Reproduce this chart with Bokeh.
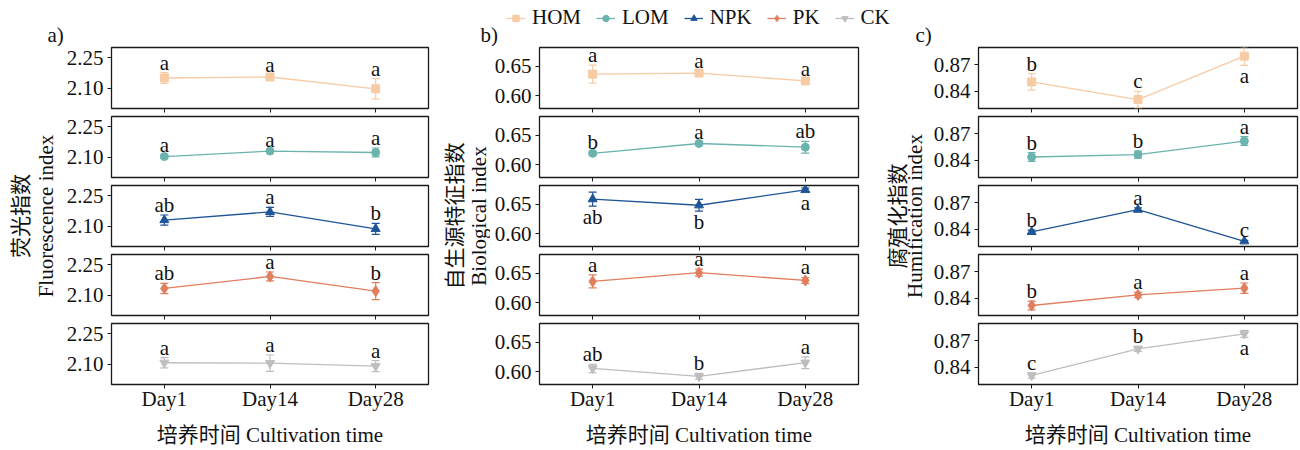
import math
from bokeh.plotting import figure
from bokeh.layouts import row, column
from bokeh.models import (ColumnDataSource, Whisker, TeeHead, Range1d,
                          FixedTicker, PrintfTickFormatter, Legend, LegendItem, Label)
from bokeh.core.properties import value
from bokeh.embed import file_html
from bokeh.resources import INLINE

# ---------------- data ----------------
DAYS = ["Day1", "Day14", "Day28"]
TREATMENTS = ["HOM", "LOM", "NPK", "PK", "CK"]

# a) Fluorescence index
FI_MEAN = {"HOM": [2.150, 2.155, 2.097], "LOM": [2.103, 2.130, 2.123],
           "NPK": [2.130, 2.170, 2.087], "PK": [2.133, 2.192, 2.120],
           "CK": [2.107, 2.105, 2.090]}
FI_ERR = {"HOM": [0.027, 0.008, 0.050], "LOM": [0.008, 0.005, 0.022],
          "NPK": [0.025, 0.022, 0.027], "PK": [0.025, 0.022, 0.042],
          "CK": [0.025, 0.040, 0.027]}
FI_LET = {"HOM": ["a", "a", "a"], "LOM": ["a", "a", "a"], "NPK": ["ab", "a", "b"],
          "PK": ["ab", "a", "b"], "CK": ["a", "a", "a"]}

# b) Biological index
BIX_MEAN = {"HOM": [0.6366, 0.6384, 0.6250], "LOM": [0.6192, 0.6360, 0.6297],
            "NPK": [0.6587, 0.6483, 0.6744], "PK": [0.6361, 0.6510, 0.6378],
            "CK": [0.6054, 0.5918, 0.6152]}
BIX_ERR = {"HOM": [0.0155, 0.004, 0.004], "LOM": [0.003, 0.003, 0.010],
           "NPK": [0.012, 0.010, 0.003], "PK": [0.011, 0.006, 0.005],
           "CK": [0.007, 0.005, 0.010]}
BIX_LET = {"HOM": ["a", "a", "a"], "LOM": ["b", "a", "ab"], "NPK": ["ab", "b", "a"],
           "PK": ["a", "a", "a"], "CK": ["ab", "b", "a"]}

# c) Humification index
HIX_MEAN = {"HOM": [0.8505, 0.8303, 0.8801], "LOM": [0.8435, 0.8462, 0.8618],
            "NPK": [0.8368, 0.8623, 0.8260], "PK": [0.8315, 0.8436, 0.8513],
            "CK": [0.8304, 0.8609, 0.8781]}
HIX_ERR = {"HOM": [0.0095, 0.0095, 0.0105], "LOM": [0.005, 0.004, 0.005],
           "NPK": [0.002, 0.002, 0.001], "PK": [0.005, 0.003, 0.006],
           "CK": [0.003, 0.003, 0.004]}
HIX_LET = {"HOM": ["b", "c", "a"], "LOM": ["b", "b", "a"], "NPK": ["b", "a", "c"],
           "PK": ["b", "a", "a"], "CK": ["c", "b", "a"]}

Y_TICKS_A = [2.10, 2.25]
Y_TICKS_B = [0.60, 0.65]
Y_TICKS_C = [0.84, 0.87]

# ---------------- style ----------------
SERIF = "Liberation Serif, Noto Sans CJK SC"
CJK = "Noto Sans CJK SC"
FS = "21px"
INK = "#111111"
COLORS = {"HOM": "#F7CBA4", "LOM": "#6BB4AE", "NPK": "#1E5596", "PK": "#E17E5D", "CK": "#BEBEBE"}
MARKERS = {"HOM": "square", "LOM": "circle", "NPK": "triangle", "PK": "diamond", "CK": "inverted_triangle"}
MSIZE = {"HOM": 8, "LOM": 8, "NPK": 9, "PK": 11, "CK": 9}
# letters drawn beneath the error bar (per panel / treatment / day)
BELOW = {"b": {"NPK": [True, True, True]},
         "c": {"HOM": [False, False, True], "CK": [False, False, True]}}

XPOS = list(range(1, len(DAYS) + 1))   # slot of each day on the shared x scale
ROW_H = 69
BOT_H = 127
STACK_H = 4 * ROW_H + BOT_H


def make_cell(panel, trt, means, errs, lets, yr, ticks, width, mbl, mbr, bottom):
    p = figure(width=width, height=BOT_H if bottom else ROW_H,
               x_range=Range1d(0.5, len(DAYS) + 0.5), y_range=Range1d(*yr),
               output_backend="svg", toolbar_location=None,
               min_border_left=mbl, min_border_right=mbr, min_border_top=1,
               min_border_bottom=65 if bottom else 7)
    p.xgrid.visible = False
    p.ygrid.visible = False
    p.outline_line_color = "#1a1a1a"
    p.outline_line_width = 1.3
    p.outline_line_alpha = 1.0

    c = COLORS[trt]
    up = [m + e for m, e in zip(means, errs)]
    lo = [m - e for m, e in zip(means, errs)]
    src = ColumnDataSource(dict(x=XPOS, y=means, upper=up, lower=lo))
    p.add_layout(Whisker(base="x", upper="upper", lower="lower", source=src,
                         line_color=c, line_width=1.2,
                         upper_head=TeeHead(size=8, line_color=c, line_width=1.2),
                         lower_head=TeeHead(size=8, line_color=c, line_width=1.2)))
    p.line("x", "y", source=src, line_color=c, line_width=1.3)
    p.scatter("x", "y", source=src, marker=MARKERS[trt], size=MSIZE[trt],
              fill_color=c, line_color=c)

    below = BELOW.get(panel, {}).get(trt, [False, False, False])
    ax, ay, at, bx, by, bt = [], [], [], [], [], []
    for i in range(len(DAYS)):
        if below[i]:
            bx.append(XPOS[i]); by.append(lo[i]); bt.append(lets[i])
        else:
            ax.append(XPOS[i]); ay.append(up[i]); at.append(lets[i])
    if ax:
        p.text(x=ax, y=ay, text=at, text_font=value(SERIF), text_font_size=FS,
               text_color=INK, text_align="center", text_baseline="middle", y_offset=-10)
    if bx:
        p.text(x=bx, y=by, text=bt, text_font=value(SERIF), text_font_size=FS,
               text_color=INK, text_align="center", text_baseline="middle", y_offset=11)

    ya = p.yaxis[0]
    ya.ticker = FixedTicker(ticks=ticks)
    ya.formatter = PrintfTickFormatter(format="%.2f")
    ya.major_label_text_font = SERIF
    ya.major_label_text_font_size = FS
    ya.major_label_text_color = INK
    ya.major_tick_out = 4
    ya.major_tick_in = 0
    ya.minor_tick_out = 0
    ya.minor_tick_in = 0
    ya.major_label_standoff = 4
    ya.axis_line_color = None
    ya.major_tick_line_color = "#1a1a1a"

    xa = p.xaxis[0]
    xa.axis_line_color = None
    if bottom:
        xa.ticker = FixedTicker(ticks=XPOS)
        xa.major_label_overrides = {k: d for k, d in zip(XPOS, DAYS)}
        xa.major_tick_out = 4
        xa.major_tick_in = 0
        xa.major_tick_line_color = "#1a1a1a"
        xa.minor_tick_out = 0
        xa.minor_tick_in = 0
        xa.major_label_text_font = SERIF
        xa.major_label_text_font_size = FS
        xa.major_label_text_color = INK
        xa.major_label_standoff = -2
        xa.axis_label = "培养时间 Cultivation time"
        xa.axis_label_text_font = SERIF
        xa.axis_label_text_font_size = FS
        xa.axis_label_text_font_style = "normal"
        xa.axis_label_text_color = INK
        xa.axis_label_standoff = 9
    else:
        # tick marks only, no labels
        xa.ticker = FixedTicker(ticks=[], minor_ticks=XPOS)
        xa.minor_tick_out = 4
        xa.minor_tick_in = 0
        xa.minor_tick_line_color = "#1a1a1a"
        xa.minor_tick_line_width = 1
        xa.major_label_standoff = 0
    return p


def make_column(panel, means, errs, lets, yr, ticks, width, mbl, mbr):
    cells = []
    for k, t in enumerate(TREATMENTS):
        cells.append(make_cell(panel, t, means[t], errs[t], lets[t], yr, ticks,
                               width, mbl, mbr, k == len(TREATMENTS) - 1))
    return column(*cells)


def make_title(width, x_cn, x_en, cn, en):
    p = figure(width=width, height=STACK_H, x_range=Range1d(0, width),
               y_range=Range1d(0, STACK_H), output_backend="svg",
               toolbar_location=None, min_border=0)
    p.axis.visible = False
    p.grid.visible = False
    p.outline_line_color = None
    yc = STACK_H - 169.5
    p.add_layout(Label(x=x_cn, y=yc, text=cn, angle=math.pi / 2, text_align="center",
                       text_baseline="middle", text_font=CJK, text_font_size=FS,
                       text_color=INK))
    p.add_layout(Label(x=x_en, y=yc, text=en, angle=math.pi / 2, text_align="center",
                       text_baseline="middle", text_font=SERIF, text_font_size=FS,
                       text_color=INK))
    return p


# header with legend and panel tags
HDR_W, HDR_H = 1300, 46
hdr = figure(width=HDR_W, height=HDR_H, x_range=Range1d(0, HDR_W), y_range=Range1d(0, HDR_H),
             output_backend="svg", toolbar_location=None, min_border=0)
hdr.axis.visible = False
hdr.grid.visible = False
hdr.outline_line_color = None
items = []
for t in TREATMENTS:
    # legend proxies, kept outside the visible header area
    r1 = hdr.line(x=[-20, -10], y=[-20, -20], line_color=COLORS[t], line_width=1.3)
    r2 = hdr.scatter(x=[-15], y=[-20], marker=MARKERS[t], size=MSIZE[t],
                     fill_color=COLORS[t], line_color=COLORS[t])
    items.append(LegendItem(label=t, renderers=[r1, r2]))
leg = Legend(items=items, orientation="horizontal", location=(506, 16),
             padding=0, margin=0, spacing=15, glyph_width=19, glyph_height=16,
             label_height=16, label_standoff=7, border_line_color=None,
             background_fill_alpha=0, label_text_font=SERIF, label_text_font_size=FS,
             label_text_color=INK)
hdr.add_layout(leg)
for tx, tag in [(47, "a)"), (480, "b)"), (915, "c)")]:
    hdr.add_layout(Label(x=tx, y=11.5, text=tag, text_align="left", text_baseline="middle",
                         text_font=SERIF, text_font_size=FS, text_color=INK))

tA = make_title(60, 18, 45, "荧光指数", "Fluorescence index")
colA = make_column("a", FI_MEAN, FI_ERR, FI_LET, (2.0, 2.3), Y_TICKS_A, 372, 51, 4)
tB = make_title(58, 20.5, 46.5, "自生源特征指数", "Biological index")
colB = make_column("b", BIX_MEAN, BIX_ERR, BIX_LET, (0.578, 0.682), Y_TICKS_B, 388, 49, 20)
tC = make_title(50, 17.5, 36.5, "腐殖化指数", "Humification index")
colC = make_column("c", HIX_MEAN, HIX_ERR, HIX_LET, (0.82, 0.89), Y_TICKS_C, 372, 50, 3)

layout = column(hdr, row(tA, colA, tB, colB, tC, colC))
open("out.html", "w").write(file_html(layout, INLINE))
